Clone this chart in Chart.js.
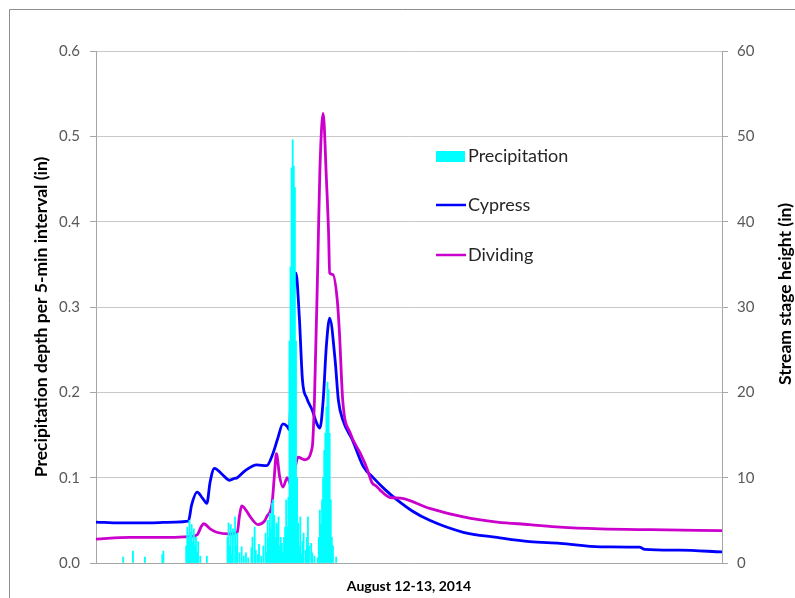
<!DOCTYPE html>
<html>
<head>
<meta charset="utf-8">
<title>August 12-13, 2014</title>
<script src="https://cdn.jsdelivr.net/npm/chart.js@4/dist/chart.umd.min.js"></script>
<style>
    body { margin: 0; background: #fff; }
    #wrap { position: relative; width: 795px; height: 598px; }
</style>
</head>
<body>
<div id="wrap"><canvas id="myChart" width="795" height="598"></canvas></div>
<script>
// Осадки: номер 5-минутного интервала и глубина (in)
const precipInterval = [25, 34, 45, 61, 62, 83, 84, 85, 86, 87, 88, 89, 90, 91, 92, 93, 94, 96, 102,
    121, 122, 123, 124, 125, 126, 128, 129, 130, 132, 134, 136, 138, 140, 143, 144, 146, 147, 149, 150,
    152, 154, 156, 157, 158, 159, 160, 161, 162, 163, 164, 165, 166, 167, 168, 169, 170, 171, 172, 173,
    174, 175, 176, 177, 178, 179, 180, 181, 182, 183, 184, 185, 186, 187, 188, 189, 190, 191, 193, 194,
    195, 196, 198, 199, 201, 204, 205, 206, 207, 208, 209, 210, 211, 212, 213, 214, 215, 216, 217, 218, 221];
const precipDepth = [0.007, 0.014, 0.007, 0.01, 0.014, 0.02, 0.042, 0.03, 0.05, 0.036, 0.045, 0.024, 0.04, 0.02, 0.03, 0.012, 0.025, 0.008, 0.008,
    0.03, 0.047, 0.02, 0.045, 0.01, 0.04, 0.054, 0.02, 0.035, 0.012, 0.019, 0.008, 0.012, 0.006, 0.018, 0.03, 0.042, 0.015, 0.01, 0.022,
    0.008, 0.02, 0.035, 0.012, 0.05, 0.03, 0.058, 0.04, 0.07, 0.074, 0.056, 0.03, 0.047, 0.045, 0.054, 0.02, 0.03, 0.023, 0.012, 0.03,
    0.042, 0.074, 0.042, 0.077, 0.26, 0.347, 0.463, 0.496, 0.465, 0.44, 0.26, 0.1, 0.047, 0.02, 0.054, 0.01, 0.025, 0.035, 0.015, 0.03,
    0.054, 0.02, 0.023, 0.012, 0.008, 0.006, 0.03, 0.062, 0.045, 0.074, 0.1, 0.132, 0.152, 0.183, 0.212, 0.203, 0.152, 0.074, 0.03, 0.02, 0.007];

// Уровень воды Cypress (in)
const cypressInterval = [0, 22, 50, 73, 85, 88, 93, 98, 102, 105, 109, 116, 123, 127, 130, 137, 148, 157, 163, 167,
    172, 176, 178, 180, 182, 184, 187, 190, 194, 199, 203, 206, 209, 212, 215, 220, 223, 227, 236, 246,
    255, 266, 277, 291, 307, 338, 369, 399, 427, 464, 500, 505, 537, 576];
const cypressStage = [4.8, 4.7, 4.7, 4.8, 4.9, 6.8, 8.3, 7.6, 7.0, 9.5, 11.1, 10.4, 9.7, 9.9, 10.0, 10.8, 11.5, 11.4, 12.9, 14.5,
    16.3, 16.0, 15.6, 24, 32, 34.0, 29, 21.4, 19.3, 17.9, 16.4, 15.8, 19, 25.5, 28.7, 23.8, 19.1, 16.8, 14.4, 11.3,
    10.0, 8.6, 7.4, 6.1, 5.0, 3.6, 3.0, 2.5, 2.3, 1.9, 1.85, 1.6, 1.5, 1.3];

// Уровень воды Dividing (in)
const dividingInterval = [0, 31, 59, 86, 93, 97, 99, 105, 111, 123, 130, 132, 134, 138, 142, 149, 155, 157, 162, 164,
    166, 169, 172, 176, 178, 180, 183, 186, 192, 199, 201, 204, 206, 209, 212, 214, 215, 218, 222, 224,
    227, 234, 243, 249, 254, 258, 261, 270, 280, 307, 338, 369, 399, 427, 464, 510, 576];
const dividingStage = [2.8, 3.0, 3.0, 3.1, 3.3, 4.3, 4.6, 4.0, 3.6, 3.4, 3.6, 5.5, 6.7, 6.2, 5.4, 4.5, 4.9, 5.4, 7.0, 10,
    12.8, 10.1, 8.9, 10.0, 9.5, 8.9, 11, 12.4, 12.1, 13.6, 19.1, 34.7, 46, 52.7, 45, 38.7, 34.0, 33.8, 30.8, 27.0,
    19.1, 15.2, 12.9, 11.2, 9.4, 9.0, 8.6, 7.7, 7.6, 6.4, 5.4, 4.8, 4.5, 4.2, 4.0, 3.9, 3.8];

const FONT = 'Lato, "Open Sans", sans-serif';

function toPoints(xs, ys) {
    return xs.map((x, i) => ({ x, y: ys[i] }));
}

// Подпись, повернутая снизу вверх
function drawVertical(ctx, text, x, y) {
    ctx.save();
    ctx.translate(x, y);
    ctx.rotate(-Math.PI / 2);
    ctx.font = `bold 17.5px ${FONT}`;
    ctx.fillStyle = '#000';
    ctx.textAlign = 'center';
    ctx.textBaseline = 'middle';
    ctx.fillText(text, 0, 0);
    ctx.restore();
}

// Рамка, подписи осей и легенда
const extras = {
    id: 'extras',
    beforeDraw(chart) {
        const ctx = chart.ctx;
        ctx.save();
        ctx.strokeStyle = '#8c8c8c';
        ctx.lineWidth = 1;
        ctx.beginPath();
        ctx.moveTo(9.5, 598);
        ctx.lineTo(9.5, 9.5);
        ctx.lineTo(795, 9.5);
        ctx.stroke();
        ctx.restore();
    },
    afterDraw(chart) {
        const ctx = chart.ctx;
        drawVertical(ctx, 'Precipitation depth per 5-min interval (in)', 41, 317);
        drawVertical(ctx, 'Stream stage height (in)', 785, 294);

        // легенда
        const items = [
            { label: 'Precipitation', color: '#00ffff', box: true, y: 156 },
            { label: 'Cypress', color: '#0000ff', box: false, y: 205 },
            { label: 'Dividing', color: '#cc00cc', box: false, y: 255 },
        ];
        ctx.save();
        ctx.font = `18px ${FONT}`;
        ctx.textBaseline = 'middle';
        ctx.textAlign = 'left';
        items.forEach((it) => {
            if (it.box) {
                ctx.fillStyle = it.color;
                ctx.fillRect(436, it.y - 5, 29, 11);
            } else {
                ctx.strokeStyle = it.color;
                ctx.lineWidth = 2.5;
                ctx.beginPath();
                ctx.moveTo(436, it.y);
                ctx.lineTo(466, it.y);
                ctx.stroke();
            }
            ctx.fillStyle = '#262626';
            ctx.fillText(it.label, 468, it.y);
        });
        ctx.restore();
    }
};

const ctx = document.getElementById('myChart').getContext('2d');
const myChart = new Chart(ctx, {
    data: {
        datasets: [
            {
                type: 'bar',
                label: 'Precipitation',
                data: toPoints(precipInterval, precipDepth),
                backgroundColor: '#00ffff',
                barThickness: 1.2,
                yAxisID: 'y',
                order: 0,
            },
            {
                type: 'line',
                label: 'Cypress',
                data: toPoints(cypressInterval, cypressStage),
                borderColor: '#0000ff',
                borderWidth: 2.8,
                pointRadius: 0,
                cubicInterpolationMode: 'monotone',
                yAxisID: 'y2',
                order: 2,
            },
            {
                type: 'line',
                label: 'Dividing',
                data: toPoints(dividingInterval, dividingStage),
                borderColor: '#cc00cc',
                borderWidth: 2.8,
                pointRadius: 0,
                cubicInterpolationMode: 'monotone',
                yAxisID: 'y2',
                order: 1,
            },
        ]
    },
    options: {
        responsive: false,
        animation: false,
        layout: { padding: { top: 51, left: 0, right: 0, bottom: 0 } },
        plugins: {
            legend: { display: false },
            tooltip: { enabled: false },
        },
        scales: {
            x: {
                type: 'linear',
                min: 0,
                max: 576,
                offset: false,
                grid: { display: true, drawOnChartArea: false, drawTicks: false },
                border: { display: true, color: '#a6a6a6', width: 1 },
                ticks: { display: false },
                title: {
                    display: true,
                    text: 'August 12-13, 2014',
                    color: '#000',
                    font: { family: FONT, size: 14, weight: 'bold' },
                    padding: { top: 0, bottom: 3 },
                },
                afterFit(scale) { scale.height = 35; },
            },
            y: {
                position: 'left',
                min: 0,
                max: 0.6,
                ticks: {
                    stepSize: 0.1,
                    color: '#595959',
                    font: { family: FONT, size: 15 },
                    padding: 10,
                    callback: (v) => v.toFixed(1),
                },
                grid: { color: '#c8c8c8', tickLength: 6, tickColor: '#a6a6a6' },
                border: { display: true, color: '#a6a6a6' },
                afterFit(scale) { scale.width = 96; },
            },
            y2: {
                position: 'right',
                min: 0,
                max: 60,
                ticks: {
                    stepSize: 10,
                    color: '#595959',
                    font: { family: FONT, size: 15 },
                    padding: 9,
                },
                grid: { drawOnChartArea: false, tickLength: 6, tickColor: '#a6a6a6' },
                border: { display: true, color: '#a6a6a6' },
                afterFit(scale) { scale.width = 73; },
            },
        },
    },
    plugins: [extras],
});
</script>
</body>
</html>
